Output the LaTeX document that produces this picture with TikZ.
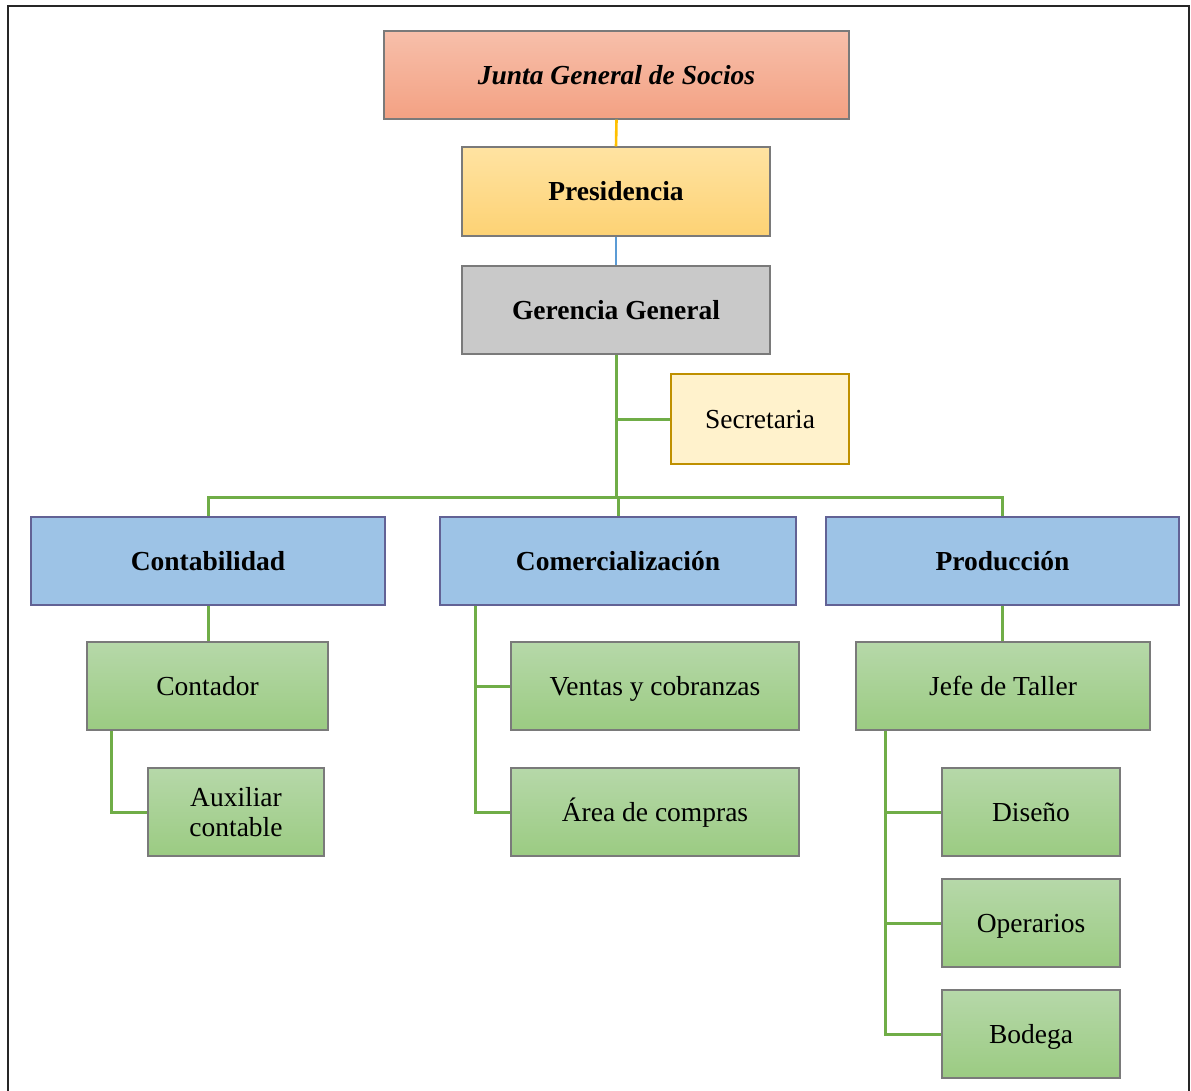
\documentclass[tikz,border=0pt]{standalone}
\usepackage{fontspec}
\setmainfont{Liberation Serif}
\definecolor{juntaT}{HTML}{F7BFAA}
\definecolor{juntaB}{HTML}{F3A183}
\definecolor{presT}{HTML}{FFE3A2}
\definecolor{presB}{HTML}{FDD274}
\definecolor{gerF}{HTML}{C9C9C9}
\definecolor{secF}{HTML}{FFF2CC}
\definecolor{secD}{HTML}{BF9000}
\definecolor{blueF}{HTML}{9DC3E6}
\definecolor{greenT}{HTML}{B6D8A9}
\definecolor{greenB}{HTML}{9BCB82}
\definecolor{gline}{HTML}{70AD47}
\definecolor{yline}{HTML}{FFC000}
\definecolor{bline}{HTML}{5B9BD5}
\definecolor{bordc}{HTML}{7A7A7A}
\tikzset{
  box/.style={rectangle, inner sep=0pt, draw=bordc, line width=1.3pt, align=center,
    font=\fontsize{27.5pt}{30pt}\selectfont, text height=24.5pt, text depth=5.9pt},
  juntabox/.style={box, top color=juntaT, bottom color=juntaB, font=\fontsize{27.5pt}{30pt}\selectfont\bfseries\itshape},
  presbox/.style={box, top color=presT, bottom color=presB, font=\fontsize{27.5pt}{30pt}\selectfont\bfseries},
  gerbox/.style={box, fill=gerF, font=\fontsize{27.5pt}{30pt}\selectfont\bfseries},
  secbox/.style={box, fill=secF, draw=secD, line width=2.6pt},
  bluebox/.style={box, fill=blueF, draw=bordc!80!blue, font=\fontsize{27.5pt}{30pt}\selectfont\bfseries},
  greenbox/.style={box, top color=greenT, bottom color=greenB},
  conn/.style={line width=3pt, draw=gline},
  frameline/.style={line width=2.6pt, draw=black!85}
}
\begin{document}
\begin{tikzpicture}[x=1pt,y=-1pt]
\useasboundingbox (0,0) rectangle (1191,1091);
\draw[frameline] (8,1100) -- (8,6) -- (1189,6) -- (1189,1100);

\node[juntabox, minimum width=465pt, minimum height=88pt] (junta) at (616.5,75) {Junta General de Socios};
\node[presbox, minimum width=308pt, minimum height=89pt] (pres) at (616,191.5) {Presidencia};
\node[gerbox, minimum width=308pt, minimum height=88pt] (ger) at (616,310) {Gerencia General};
\node[secbox, minimum width=178pt, minimum height=90pt] (sec) at (760,419) {Secretaria};

\node[bluebox, minimum width=354pt, minimum height=88pt] (contab) at (208,561) {Contabilidad};
\node[bluebox, minimum width=356pt, minimum height=88pt] (comer) at (618,561) {Comercialización};
\node[bluebox, minimum width=353pt, minimum height=88pt] (prod) at (1002.5,561) {Producción};

\node[greenbox, minimum width=241pt, minimum height=88pt] (contador) at (207.5,686) {Contador};
\node[greenbox, text height=, text depth=, minimum width=176pt, minimum height=88pt] (aux) at (236,812) {Auxiliar\\contable};

\node[greenbox, minimum width=288pt, minimum height=88pt] (ventas) at (655,686) {Ventas y cobranzas};
\node[greenbox, minimum width=288pt, minimum height=88pt] (area) at (655,812) {Área de compras};

\node[greenbox, minimum width=294pt, minimum height=88pt] (jefe) at (1003,686) {Jefe de Taller};
\node[greenbox, minimum width=178pt, minimum height=88pt] (dis) at (1031,812) {Diseño};
\node[greenbox, minimum width=178pt, minimum height=88pt] (ope) at (1031,923) {Operarios};
\node[greenbox, minimum width=178pt, minimum height=88pt] (bod) at (1031,1034) {Bodega};

% connectors
\coordinate (bus) at (616,497);
\draw[line width=2.6pt, draw=yline] (junta.south) -- (pres.north);
\draw[line width=2.6pt, draw=bline] (pres.south) -- (ger.north);
\draw[conn] (ger.south) -- (bus);
\draw[conn] (sec.west) -- (sec.west -| ger.south);
\draw[conn] (contab.north) |- (bus) -| (prod.north);
\draw[conn] (bus) -- (bus -| comer.north) -- (comer.north);
\draw[conn] (contab.south) -- (contab.south |- contador.north);
\coordinate (cc) at ([xshift=25pt]contador.south west);
\draw[conn] (cc) |- (aux.west);
\coordinate (cv) at ([xshift=36pt]comer.south west);
\draw[conn] (cv) |- (area.west);
\draw[conn] (ventas.west) -- (ventas.west -| cv);
\draw[conn] (prod.south) -- (prod.south |- jefe.north);
\coordinate (cj) at ([xshift=30pt]jefe.south west);
\draw[conn] (cj) |- (bod.west);
\draw[conn] (dis.west) -- (dis.west -| cj);
\draw[conn] (ope.west) -- (ope.west -| cj);
\end{tikzpicture}
\end{document}
